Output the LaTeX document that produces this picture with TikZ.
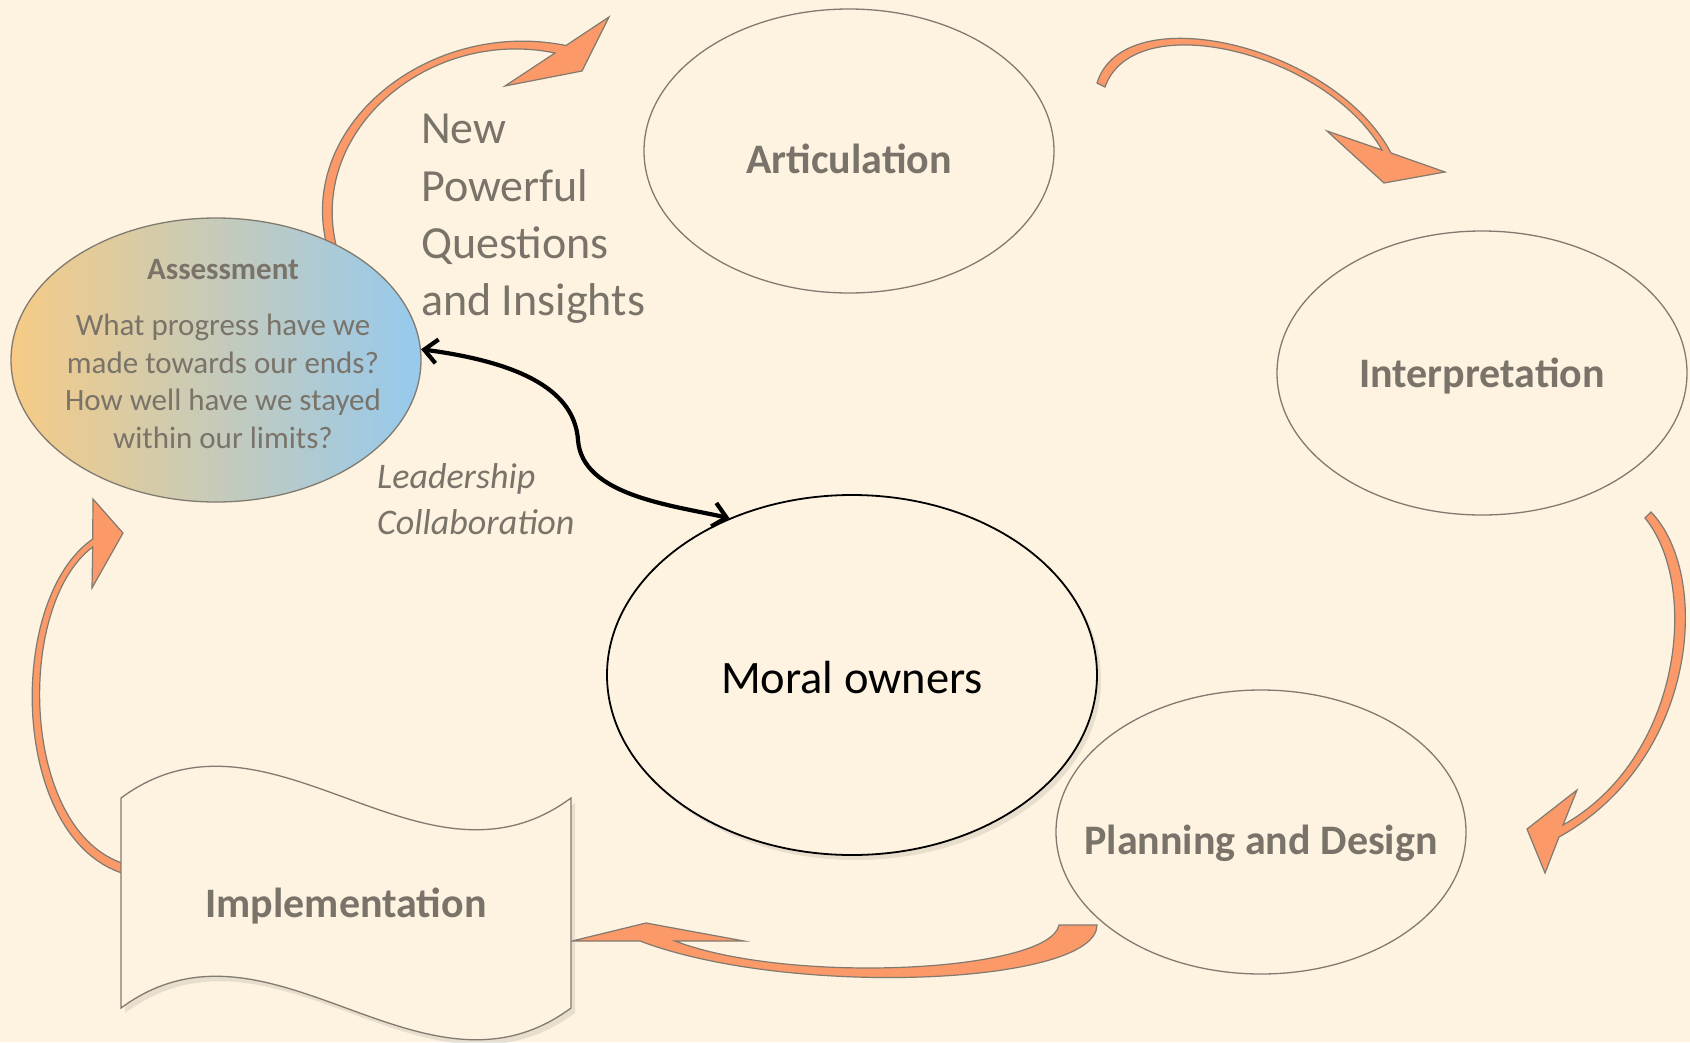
\documentclass[tikz,border=0pt]{standalone}
\usepackage{fontspec}
\setmainfont{Carlito}
\usetikzlibrary{shapes.geometric,arrows.meta,shadows}
\definecolor{bgc}{RGB}{254,243,224}
\definecolor{txtc}{RGB}{121,115,105}
\definecolor{edgec}{RGB}{128,122,112}
\definecolor{orng}{RGB}{251,153,104}
\definecolor{assL}{RGB}{246,203,133}
\definecolor{assR}{RGB}{150,202,238}
\begin{document}
\begin{tikzpicture}[x=1pt,y=-1pt,
  bub/.style={ellipse, draw=edgec, line width=1.3pt, fill=bgc, minimum width=410pt, minimum height=284pt, inner sep=0pt},
  ttl/.style={anchor=base, inner sep=0pt, text=txtc, font=\fontsize{42}{50}\selectfont\bfseries},
  qline/.style={anchor=base, inner sep=0pt, text=txtc, font=\fontsize{31}{38}\selectfont},
  big/.style={anchor=base west, inner sep=0pt, text=txtc, font=\fontsize{46}{57}\selectfont},
  ital/.style={anchor=base west, inner sep=0pt, text=txtc, font=\fontsize{36}{46}\selectfont\itshape},
  blockarrow/.style={fill=orng, draw=edgec, line width=1.2pt, line join=miter, miter limit=20},
  shad/.style={drop shadow={opacity=0.18, shadow xshift=4pt, shadow yshift=-5pt}}
]
\useasboundingbox (0,0) rectangle (1690,1042);
\fill[bgc] (0,0) rectangle (1690,1042);

% orange block arrows
% Assessment -> Articulation
\filldraw[blockarrow] (505,86) -- (555,53) .. controls (430,27) and (306,130) .. (337,249) -- (327,246) .. controls (296,125) and (430,18) .. (566,45.5) -- (609,17) -- (582,71) -- cycle;
% Articulation -> Interpretation
\filldraw[blockarrow] (1327,131) -- (1382,150) .. controls (1326,52) and (1134,5) .. (1105,87) -- (1097,83) .. controls (1124,-4) and (1334,45) .. (1391,153) -- (1445,172) -- (1384,183) -- cycle;
% Interpretation -> Planning
\filldraw[blockarrow] (1577,790) -- (1563,825) .. controls (1682,758) and (1700,585) .. (1645,518) -- (1651,512) .. controls (1712,575) and (1698,760) .. (1559,837) -- (1545,873) -- (1527,829) -- cycle;
% Planning -> Implementation
\filldraw[blockarrow] (572,941) -- (646,923) -- (744,941) -- (675,941) .. controls (790,985) and (1050,972) .. (1059,925) -- (1097,925) .. controls (1097,985) and (790,998) .. (640,941) -- cycle;
% Implementation -> Assessment
\filldraw[blockarrow] (93,499) -- (123,533) -- (92,588) -- (92.7,547) .. controls (15,605) and (20,832) .. (125,864) -- (125,874) .. controls (10,840) and (5,600) .. (92.7,539) -- cycle;

% Implementation shape
\filldraw[fill=bgc, draw=edgec, line width=1.3pt, shad] (121,798) .. controls (270,688) and (422,908) .. (571,798) -- (571,1008) .. controls (422,1118) and (270,898) .. (121,1008) -- cycle;
\coordinate (impl) at (346,903);

% ellipses
\node[bub] (art) at (849,151) {};
\node[bub] (int) at (1482,373) {};
\node[bub] (plan) at (1261,832) {};
\node[bub, left color=assL, right color=assR] (ass) at (216,360) {};
\node[ellipse, draw=black, line width=1.8pt, fill=bgc, minimum width=490pt, minimum height=360pt, inner sep=0pt, shad] (mo) at (852,675) {};

% texts
\node[ttl] (artT) at (849,173) {Articulation};
\node[ttl] (intT) at (1482,387) {Interpretation};
\node[ttl] (planT) at (1261,854) {Planning and Design};
\node[ttl] (implT) at (346,917) {Implementation};
\node[anchor=base, inner sep=0pt, font=\fontsize{46.5}{54}\selectfont] (moT) at (852,693) {Moral owners};

\node[qline, font=\fontsize{31}{38}\selectfont\bfseries] (assT) at (223,279) {Assessment};
\node[qline] (q1) at (223,335) {What progress have we};
\node[qline] (q2) at (223,373) {made towards our ends?};
\node[qline] (q3) at (223,410) {How well have we stayed};
\node[qline] (q4) at (223,448) {within our limits?};

\node[big] (n1) at (421,143) {New};
\node[big] (n2) at (421,201) {Powerful};
\node[big] (n3) at (421,258) {Questions};
\node[big] (n4) at (421,315) {and Insights};

\node[ital] (l1) at (377,488) {Leadership};
\node[ital] (l2) at (377,534) {Collaboration};

% black double arrow
\draw[line width=4.2pt, {Straight Barb[length=13pt,width=24pt]}-{Straight Barb[length=13pt,width=24pt]}] (ass.3) .. controls (540,365) and (575,400) .. (578,440) .. controls (582,495) and (670,505) .. (mo.128);
\end{tikzpicture}
\end{document}
